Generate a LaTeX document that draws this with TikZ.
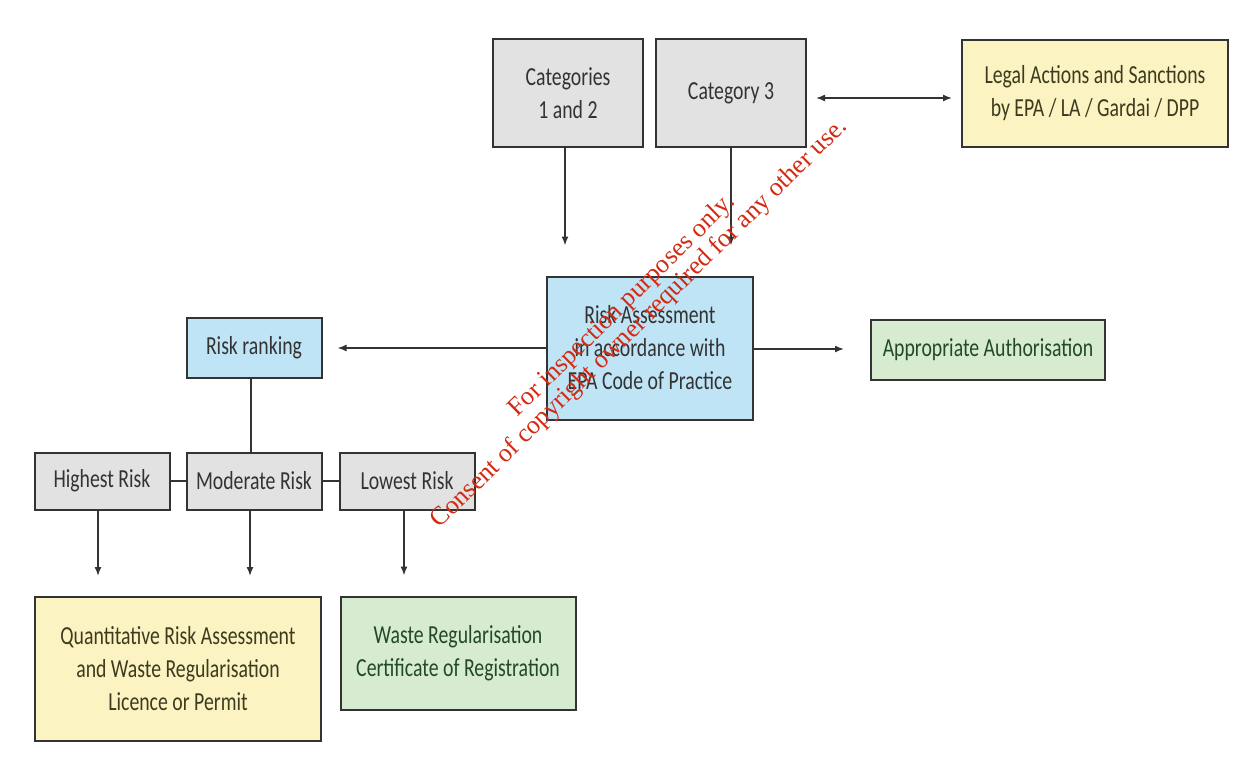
\documentclass[tikz,border=0pt]{standalone}
\usepackage{fontspec}
\setmainfont{Carlito}[FakeStretch=0.76]
\newfontfamily\markfont{Liberation Serif}
\usetikzlibrary{arrows.meta}
\definecolor{boxline}{HTML}{333333}
\definecolor{greyfill}{HTML}{E2E2E2}
\definecolor{bluefill}{HTML}{BFE4F6}
\definecolor{yellowfill}{HTML}{FBF3C2}
\definecolor{greenfill}{HTML}{D6EBD0}
\definecolor{yellowtext}{HTML}{3D3A1E}
\definecolor{greentext}{HTML}{224A24}
\definecolor{marktext}{HTML}{D42A12}
\tikzset{
  box/.style={draw=boxline, line width=2pt, align=center, inner sep=2pt,
    font=\fontsize{26}{33}\selectfont, text=boxline},
  greybox/.style={box, fill=greyfill},
  bluebox/.style={box, fill=bluefill},
  yellowbox/.style={box, fill=yellowfill, text=yellowtext},
  greenbox/.style={box, fill=greenfill, text=greentext},
  link/.style={draw=boxline, line width=1.5pt},
  arrow/.style={link, -{Latex[length=9pt,width=7pt]}},
}
\begin{document}
\begin{tikzpicture}[x=1pt,y=-1pt]
  \useasboundingbox (0,0) rectangle (1241,765);
  % top row
  \node[greybox, minimum width=150pt, minimum height=108pt] (cat12) at (568,93) {Categories\\1 and 2};
  \node[greybox, minimum width=150pt, minimum height=108pt] (cat3) at (731,93) {Category 3};
  \node[yellowbox, minimum width=266pt, minimum height=107pt] (legal) at (1095,93.5) {Legal Actions and Sanctions\\by EPA / LA / Gardai / DPP};
  % middle row
  \node[bluebox, minimum width=206pt, minimum height=143pt] (assess) at (650,348) {Risk Assessment\\in accordance with\\EPA Code of Practice};
  \node[bluebox, minimum width=135pt, minimum height=60pt] (ranking) at (254,348) {Risk ranking};
  \node[greenbox, minimum width=234pt, minimum height=60pt] (auth) at (988,350) {Appropriate Authorisation};
  % risk levels
  \node[greybox, minimum width=135pt, minimum height=57pt] (high) at (102,481) {Highest Risk};
  \node[greybox, minimum width=135pt, minimum height=57pt] (moderate) at (254,481) {Moderate Risk};
  \node[greybox, minimum width=135pt, minimum height=57pt] (low) at (407,481) {Lowest Risk};
  % outcomes
  \node[yellowbox, minimum width=286pt, minimum height=144pt] (qra) at (178,669) {Quantitative Risk Assessment\\and Waste Regularisation\\Licence or Permit};
  \node[greenbox, minimum width=235pt, minimum height=113pt] (cert) at (458,653) {Waste Regularisation\\Certificate of Registration};
  % connectors
  \draw[arrow, shorten >=30pt] (cat12.south -| 565,0) -- (assess.north -| 565,0);
  \draw[arrow, shorten >=30pt] (cat3.south) -- (assess.north -| cat3.south);
  \draw[link, {Latex[length=9pt,width=7pt]}-{Latex[length=9pt,width=7pt]}, shorten <=9pt, shorten >=9pt] (cat3.east |- 0,98) -- (legal.west |- 0,98);
  \draw[arrow, shorten >=15pt] (assess.west |- ranking) -- (ranking.east);
  \draw[arrow, shorten >=26pt] (assess.east |- 0,349) -- (auth.west |- 0,349);
  \draw[link] (ranking.south -| 251,0) -- (moderate.north -| 251,0);
  \draw[link] (high) -- (moderate);
  \draw[link] (moderate) -- (low);
  \draw[arrow, shorten >=20pt] (high.south -| 98,0) -- (qra.north -| 98,0);
  \draw[arrow, shorten >=20pt] (moderate.south -| 250,0) -- (qra.north -| 250,0);
  \draw[arrow, shorten >=20pt] (low.south -| 404,0) -- (cert.north -| 404,0);
  % watermark
  \node[text=marktext, font=\markfont\fontsize{26}{25}\selectfont, align=center, rotate=44.5] (mark) at (631,315)
    {For inspection purposes only.\\Consent of copyright owner required for any other use.};
\end{tikzpicture}
\end{document}
